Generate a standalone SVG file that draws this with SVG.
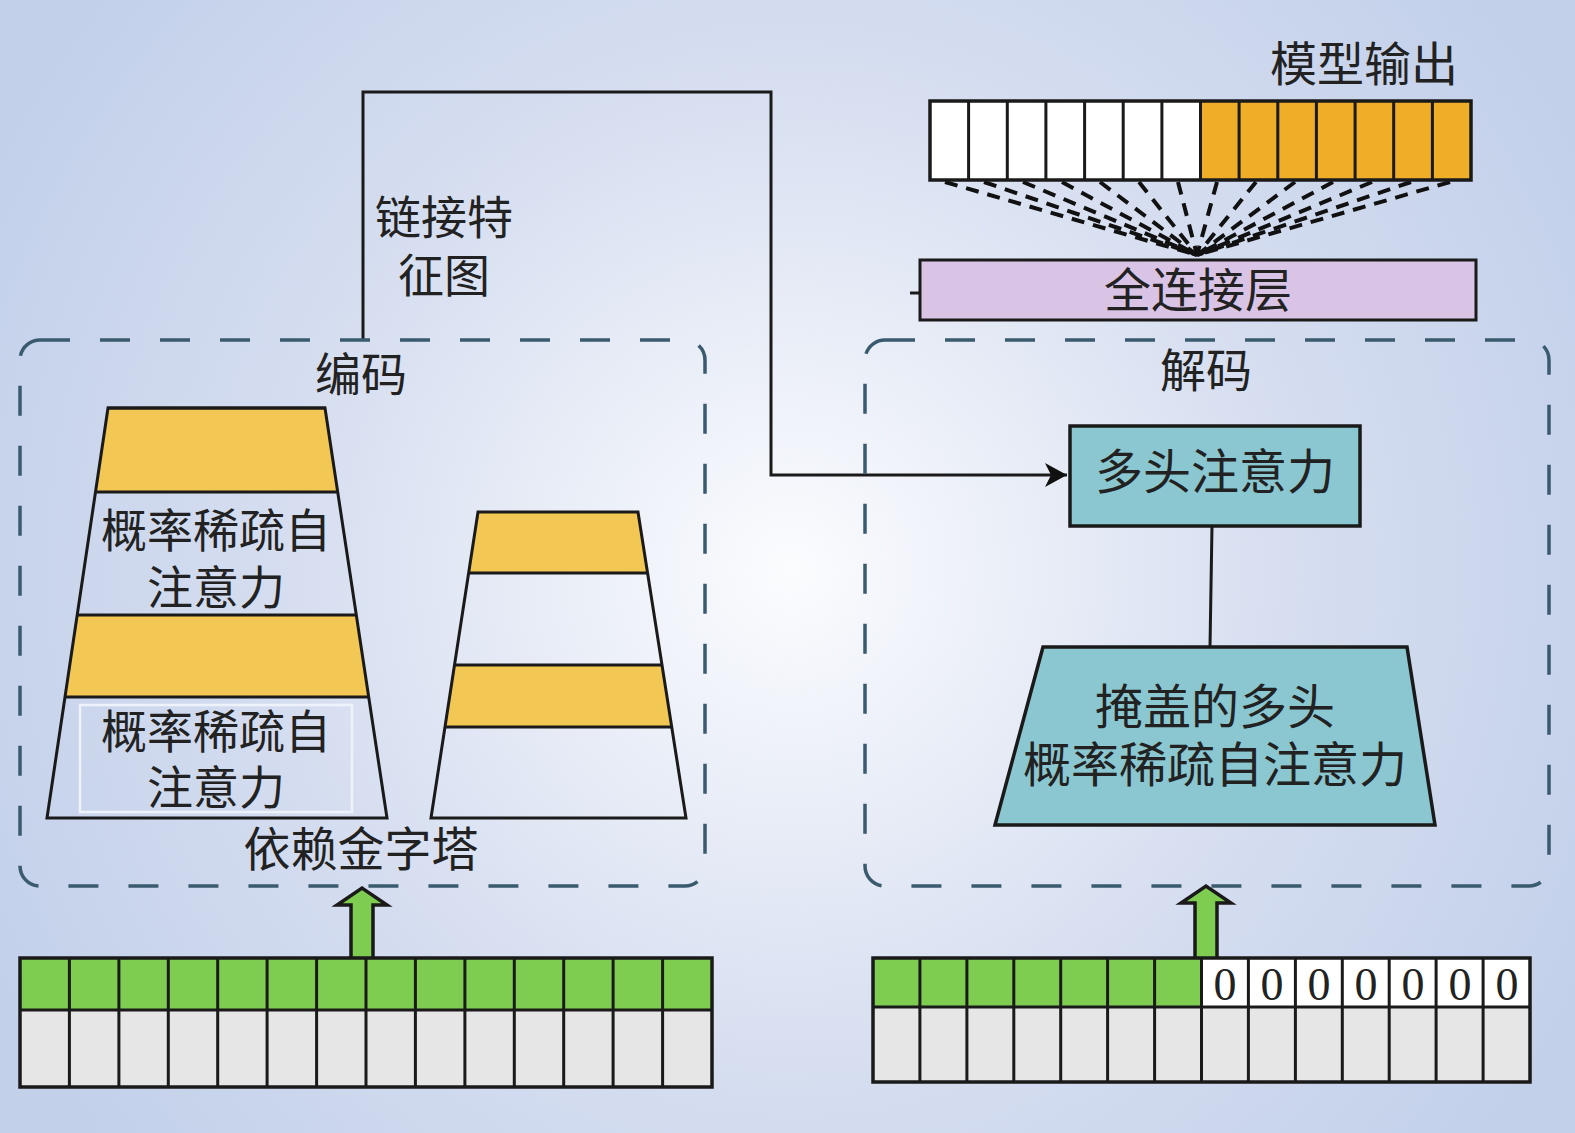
<svg xmlns="http://www.w3.org/2000/svg" width="1575" height="1133" viewBox="0 0 1575 1133">
<defs>
<radialGradient id="bg" cx="790" cy="570" r="900" gradientUnits="userSpaceOnUse">
<stop offset="0" stop-color="#fbfcfe"/>
<stop offset="0.55" stop-color="#d6def0"/>
<stop offset="1" stop-color="#c2d0ea"/>
</radialGradient>
<marker id="arr" markerWidth="24" markerHeight="24" refX="22" refY="12" orient="auto" markerUnits="userSpaceOnUse">
<path d="M0,0 L22,12 L0,24 L6,12 Z" fill="#111"/>
</marker>
<style>
.t{font-family:"Noto Sans CJK SC","Noto Sans",sans-serif;fill:#222;text-anchor:middle}
.z{font-family:"Liberation Serif",serif;fill:#222;text-anchor:middle;font-size:46px}
.ln{stroke:#1a1a1a;stroke-width:3;fill:none}
.grp{fill:none;stroke:#3a5a6e;stroke-width:3.5;stroke-dasharray:30 30}
.yel{fill:#f2c753}
.cell{stroke:#1a1a1a;stroke-width:3}
.fan{stroke:#111;stroke-width:4;stroke-dasharray:13 9;fill:none}
.teal{fill:#8bc7d1;stroke:#1a1a1a;stroke-width:3.5}
.garr{fill:#7ecd50;stroke:#1a1a1a;stroke-width:3.5;stroke-linejoin:miter}
</style>
</defs>
<rect x="0" y="0" width="1575" height="1133" fill="url(#bg)"/>

<g id="connectors">
<polyline class="ln" points="363,340 363,92 771,92 771,475 1067,475" marker-end="url(#arr)"/>
<line class="ln" x1="1212" y1="526" x2="1210" y2="647"/>
<line class="ln" x1="910" y1="293" x2="920" y2="293"/>
<g id="fan">
<line class="fan" x1="945" y1="182" x2="1197" y2="255"/>
<line class="fan" x1="984" y1="182" x2="1197" y2="255"/>
<line class="fan" x1="1023" y1="182" x2="1197" y2="255"/>
<line class="fan" x1="1062" y1="182" x2="1197" y2="255"/>
<line class="fan" x1="1100" y1="182" x2="1197" y2="255"/>
<line class="fan" x1="1139" y1="182" x2="1197" y2="255"/>
<line class="fan" x1="1178" y1="182" x2="1197" y2="255"/>
<line class="fan" x1="1217" y1="182" x2="1197" y2="255"/>
<line class="fan" x1="1256" y1="182" x2="1197" y2="255"/>
<line class="fan" x1="1295" y1="182" x2="1197" y2="255"/>
<line class="fan" x1="1333" y1="182" x2="1197" y2="255"/>
<line class="fan" x1="1372" y1="182" x2="1197" y2="255"/>
<line class="fan" x1="1411" y1="182" x2="1197" y2="255"/>
<line class="fan" x1="1450" y1="182" x2="1197" y2="255"/>
</g>
<path class="garr" d="M351,958 L351,905 L337,905 L362,888 L387,905 L373,905 L373,958"/>
<path class="garr" d="M1195,958 L1195,903 L1181,903 L1206,886 L1231,903 L1217,903 L1217,958"/>
</g>

<g id="link-label">
<text class="t" font-size="46"><tspan x="444" y="234">链接特</tspan><tspan x="444" y="292">征图</tspan></text>
</g>

<g id="encoder">
<rect class="grp" x="20" y="340" width="685" height="546" rx="20"/>
<text class="t" x="361" y="391" font-size="46">编码</text>
<text class="t" x="361" y="866" font-size="47">依赖金字塔</text>
</g>

<g id="pyramid-left">
<polygon class="yel" points="108,408 325,408 337.7,492 95.5,492"/>
<polygon class="yel" points="77.2,615 356.3,615 368.7,697 65,697"/>
<polygon class="ln" points="108,408 325,408 387,818 47,818" stroke-width="3.5"/>
<line class="ln" x1="95.5" y1="492" x2="337.7" y2="492"/>
<line class="ln" x1="77.2" y1="615" x2="356.3" y2="615"/>
<line class="ln" x1="65" y1="697" x2="368.7" y2="697"/>
<line class="ln" x1="107" y1="408" x2="326" y2="408" stroke-width="6"/>
<rect x="80" y="705" width="272" height="107" fill="none" stroke="#eef2fa" stroke-width="2.5"/>
<text class="t" font-size="46"><tspan x="216" y="547">概率稀疏自</tspan><tspan x="216" y="604">注意力</tspan></text>
<text class="t" font-size="46"><tspan x="216" y="748">概率稀疏自</tspan><tspan x="216" y="804">注意力</tspan></text>
</g>

<g id="pyramid-right">
<polygon class="yel" points="478,512 638,512 647.6,573 468.6,573"/>
<polygon class="yel" points="454.5,665 662,665 671.8,727 445,727"/>
<polygon class="ln" points="478,512 638,512 686,818 431,818" stroke-width="3.5"/>
<line class="ln" x1="468.6" y1="573" x2="647.6" y2="573"/>
<line class="ln" x1="454.5" y1="665" x2="662" y2="665"/>
<line class="ln" x1="445" y1="727" x2="671.8" y2="727"/>
</g>

<g id="decoder">
<rect class="grp" x="865" y="340" width="684" height="546" rx="20"/>
<text class="t" x="1206" y="387" font-size="46">解码</text>
</g>

<g id="mha">
<rect class="teal" x="1070" y="426" width="290" height="100"/>
<text class="t" x="1215" y="489" font-size="48">多头注意力</text>
</g>

<g id="masked">
<polygon class="teal" points="1043,647 1407,647 1435,825 995,825"/>
<text class="t" font-size="48"><tspan x="1215" y="724">掩盖的多头</tspan><tspan x="1215" y="782">概率稀疏自注意力</tspan></text>
</g>

<g id="fc">
<rect x="920" y="260" width="556" height="60" fill="#d9c4e6" stroke="#1a1a1a" stroke-width="3"/>
<text class="t" x="1198" y="307" font-size="47">全连接层</text>
</g>

<g id="output">
<text class="t" x="1364" y="81" font-size="47">模型输出</text>
<rect x="930" y="101" width="271" height="79" fill="#ffffff"/>
<rect x="1201" y="101" width="270" height="79" fill="#f0ae28"/>
<path class="cell" fill="none" d="M968.6,101V180M1007.3,101V180M1045.9,101V180M1084.6,101V180M1123.2,101V180M1161.9,101V180M1200.5,101V180M1239.1,101V180M1277.8,101V180M1316.4,101V180M1355.1,101V180M1393.7,101V180M1432.4,101V180"/>
<rect x="930" y="101" width="541" height="79" fill="none" stroke="#1a1a1a" stroke-width="3.5"/>
</g>

<g id="enc-input">
<rect x="20" y="958" width="692" height="52" fill="#7ecd50"/>
<rect x="20" y="1010" width="692" height="77" fill="#e6e6e6"/>
<path class="cell" fill="none" d="M69.4,958V1087M118.9,958V1087M168.3,958V1087M217.7,958V1087M267.1,958V1087M316.6,958V1087M366,958V1087M415.4,958V1087M464.9,958V1087M514.3,958V1087M563.7,958V1087M613.1,958V1087M662.6,958V1087M20,1010H712"/>
<rect x="20" y="958" width="692" height="129" fill="none" stroke="#1a1a1a" stroke-width="3.5"/>
</g>

<g id="dec-input">
<rect x="873" y="958" width="329" height="49" fill="#7ecd50"/>
<rect x="1202" y="958" width="328" height="49" fill="#ffffff"/>
<rect x="873" y="1007" width="657" height="75" fill="#e6e6e6"/>
<path class="cell" fill="none" d="M919.9,958V1082M966.9,958V1082M1013.8,958V1082M1060.7,958V1082M1107.6,958V1082M1154.6,958V1082M1201.5,958V1082M1248.4,958V1082M1295.4,958V1082M1342.3,958V1082M1389.2,958V1082M1436.1,958V1082M1483.1,958V1082M873,1007H1530"/>
<rect x="873" y="958" width="657" height="124" fill="none" stroke="#1a1a1a" stroke-width="3.5"/>
<text class="z" x="1225" y="1000">0</text>
<text class="z" x="1272" y="1000">0</text>
<text class="z" x="1319" y="1000">0</text>
<text class="z" x="1366" y="1000">0</text>
<text class="z" x="1413" y="1000">0</text>
<text class="z" x="1460" y="1000">0</text>
<text class="z" x="1507" y="1000">0</text>
</g>
</svg>
